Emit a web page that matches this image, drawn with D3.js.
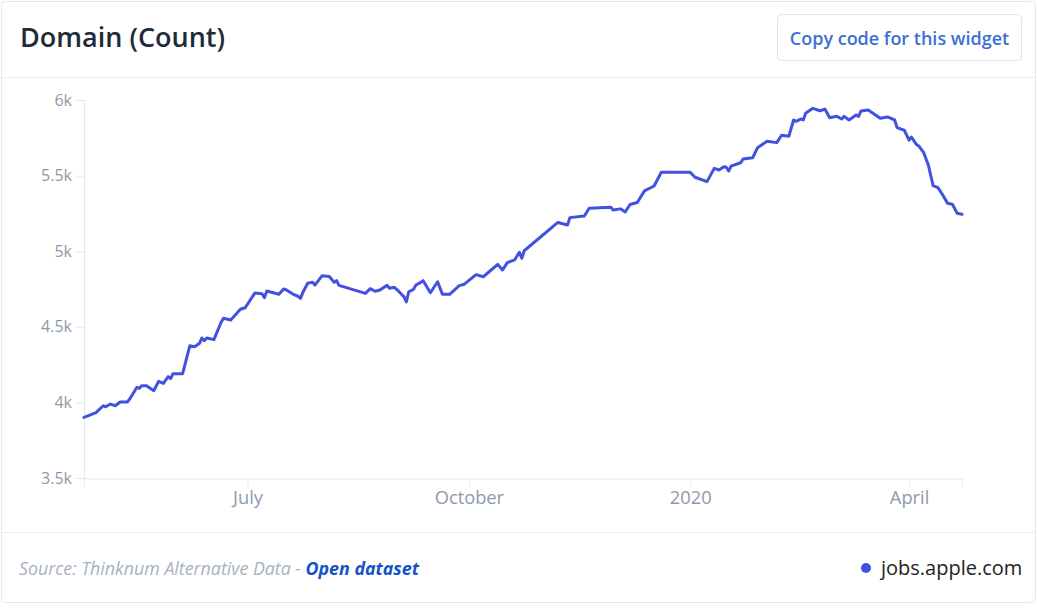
<!DOCTYPE html>
<html>
<head>
<meta charset="utf-8">
<script src="https://cdn.jsdelivr.net/npm/d3@7"></script>
<style>
  html, body { margin: 0; padding: 0; background: #ffffff; }
  svg { display: block; font-family: "Open Sans", "Noto Sans", sans-serif; }
</style>
</head>
<body>
<svg id="chart" width="1037" height="609"></svg>
<script>
// ---- data ----
const dates = [
  "2019-04-24","2019-04-29","2019-05-02","2019-05-03","2019-05-05","2019-05-07","2019-05-09","2019-05-12","2019-05-13","2019-05-16",
  "2019-05-17","2019-05-18","2019-05-20","2019-05-23","2019-05-25","2019-05-27","2019-05-29","2019-05-30","2019-05-31","2019-06-04",
  "2019-06-07","2019-06-09","2019-06-11","2019-06-12","2019-06-13","2019-06-14","2019-06-17","2019-06-20","2019-06-21","2019-06-24",
  "2019-06-28","2019-06-30","2019-07-04","2019-07-07","2019-07-08","2019-07-09","2019-07-14","2019-07-16","2019-07-17","2019-07-20",
  "2019-07-22","2019-07-23","2019-07-24","2019-07-26","2019-07-28","2019-07-29","2019-08-01","2019-08-04","2019-08-06","2019-08-07",
  "2019-08-08","2019-08-19","2019-08-21","2019-08-23","2019-08-25","2019-08-28","2019-08-29","2019-08-31","2019-09-02","2019-09-04",
  "2019-09-05","2019-09-06","2019-09-08","2019-09-09","2019-09-11","2019-09-12","2019-09-15","2019-09-18","2019-09-20","2019-09-23",
  "2019-09-27","2019-09-29","2019-10-04","2019-10-07","2019-10-13","2019-10-15","2019-10-17","2019-10-20","2019-10-22","2019-10-23",
  "2019-10-24","2019-11-07","2019-11-11","2019-11-12","2019-11-18","2019-11-20","2019-11-29","2019-11-30","2019-12-03","2019-12-05",
  "2019-12-07","2019-12-10","2019-12-13","2019-12-17","2019-12-20","2020-01-01","2020-01-03","2020-01-08","2020-01-11","2020-01-13",
  "2020-01-15","2020-01-16","2020-01-17","2020-01-18","2020-01-22","2020-01-23","2020-01-27","2020-01-29","2020-02-02","2020-02-06",
  "2020-02-08","2020-02-11","2020-02-13","2020-02-14","2020-02-16","2020-02-17","2020-02-18","2020-02-21","2020-02-24","2020-02-26",
  "2020-02-28","2020-03-02","2020-03-04","2020-03-05","2020-03-07","2020-03-10","2020-03-11","2020-03-12","2020-03-15","2020-03-20",
  "2020-03-23","2020-03-26","2020-03-27","2020-03-30","2020-04-01","2020-04-02","2020-04-04","2020-04-05","2020-04-07","2020-04-09",
  "2020-04-11","2020-04-13","2020-04-15","2020-04-17","2020-04-19","2020-04-21","2020-04-23"
];
const counts = [
  3901,3932,3978,3971,3989,3978,4003,4003,4022,4100,
  4093,4110,4110,4077,4139,4126,4170,4157,4190,4190,
  4375,4368,4391,4426,4408,4426,4415,4530,4556,4545,
  4616,4626,4723,4719,4692,4737,4715,4750,4745,4715,
  4702,4688,4728,4788,4794,4776,4838,4833,4794,4805,
  4774,4721,4752,4735,4743,4774,4755,4761,4732,4699,
  4664,4732,4748,4776,4794,4805,4725,4798,4715,4715,
  4772,4781,4845,4831,4913,4876,4924,4942,4993,4953,
  5003,5190,5173,5222,5233,5284,5290,5272,5280,5259,
  5309,5322,5399,5431,5522,5522,5489,5460,5548,5537,
  5559,5555,5530,5563,5585,5610,5618,5685,5727,5718,
  5767,5760,5868,5859,5874,5868,5912,5945,5929,5940,
  5883,5892,5874,5892,5868,5901,5892,5927,5934,5879,
  5888,5868,5817,5800,5735,5755,5707,5696,5654,5570,
  5433,5420,5372,5317,5310,5251,5244
];
const yTicks = [3500, 4000, 4500, 5000, 5500, 6000];
const xTickDates = ["2019-07-01", "2019-10-01", "2020-01-01", "2020-04-01"];
const xTickLabels = ["July", "October", "2020", "April"];
const seriesName = "jobs.apple.com";
const titleText = "Domain (Count)";
const buttonText = "Copy code for this widget";
const sourceText = "Source: Thinknum Alternative Data - ";
const linkText = "Open dataset";

// ---- drawing ----
const parse = d3.utcParse("%Y-%m-%d");
const data = dates.map((d, i) => ({ date: parse(d), value: counts[i] }));

const W = 1037, H = 609;
const svg = d3.select("#chart");

// card
svg.append("rect").attr("x", 1.5).attr("y", 1.5).attr("width", W - 3).attr("height", 601)
  .attr("rx", 4).attr("fill", "#fff").attr("stroke", "#e3e9ef").attr("stroke-width", 1);
svg.append("line").attr("x1", 2).attr("x2", W - 2).attr("y1", 77.5).attr("y2", 77.5)
  .attr("stroke", "#e8edf2");
svg.append("line").attr("x1", 2).attr("x2", W - 2).attr("y1", 532.5).attr("y2", 532.5)
  .attr("stroke", "#e8edf2");

// title
svg.append("text").attr("x", 20).attr("y", 47).text(titleText)
  .attr("font-size", 27).attr("font-weight", 600).attr("fill", "#1f2b37");

// button
svg.append("rect").attr("x", 777.5).attr("y", 14.5).attr("width", 244).attr("height", 46)
  .attr("rx", 4).attr("fill", "#fff").attr("stroke", "#dde3ea");
svg.append("text").attr("x", 899.5).attr("y", 44.5).attr("text-anchor", "middle")
  .text(buttonText).attr("font-size", 18).attr("font-weight", 600).attr("fill", "#3b6fd6");

// scales
const x = d3.scaleUtc().domain(d3.extent(data, d => d.date)).range([84, 962]);
const y = d3.scaleLinear().domain([3500, 6000]).range([478, 100]);

const axisColor = "#e4e9ef";
const labelColor = "#8d9aab";

// y axis
const yAxis = svg.append("g").attr("transform", "translate(84,0)")
  .call(d3.axisLeft(y).tickValues(yTicks).tickFormat(d3.format("~s")).tickSize(8).tickPadding(4));
yAxis.select(".domain").remove();
yAxis.selectAll(".tick line").attr("stroke", axisColor);
yAxis.selectAll(".tick text").attr("fill", labelColor).attr("font-size", 16)
  .attr("font-family", "'Open Sans', sans-serif");
svg.append("line").attr("x1", 84.5).attr("x2", 84.5).attr("y1", 100).attr("y2", 486)
  .attr("stroke", axisColor);

// x axis
const xAxis = svg.append("g").attr("transform", "translate(0,478.5)")
  .call(d3.axisBottom(x).tickValues(xTickDates.map(parse))
    .tickFormat((d, i) => xTickLabels[i]).tickSize(8).tickSizeOuter(8).tickPadding(5));
xAxis.select(".domain").attr("stroke", axisColor);
xAxis.selectAll(".tick line").attr("stroke", axisColor);
xAxis.selectAll(".tick text").attr("fill", labelColor).attr("font-size", 18.3)
  .attr("font-family", "'Open Sans', sans-serif");

// line
const line = d3.line().x(d => x(d.date)).y(d => y(d.value));
svg.append("path").datum(data).attr("d", line).attr("fill", "none")
  .attr("stroke", "#4251e0").attr("stroke-width", 3)
  .attr("stroke-linejoin", "round").attr("stroke-linecap", "round");

// footer
const src = svg.append("text").attr("x", 19).attr("y", 575).attr("font-size", 17.8)
  .attr("font-style", "italic");
src.append("tspan").text(sourceText).attr("fill", "#a7b2c0");
src.append("tspan").text(linkText).attr("fill", "#1450c8").attr("font-weight", 700);

svg.append("circle").attr("cx", 866).attr("cy", 568).attr("r", 5).attr("fill", "#4251e0");
svg.append("text").attr("x", 881).attr("y", 575).text(seriesName)
  .attr("font-size", 20).attr("fill", "#222");
</script>
</body>
</html>
